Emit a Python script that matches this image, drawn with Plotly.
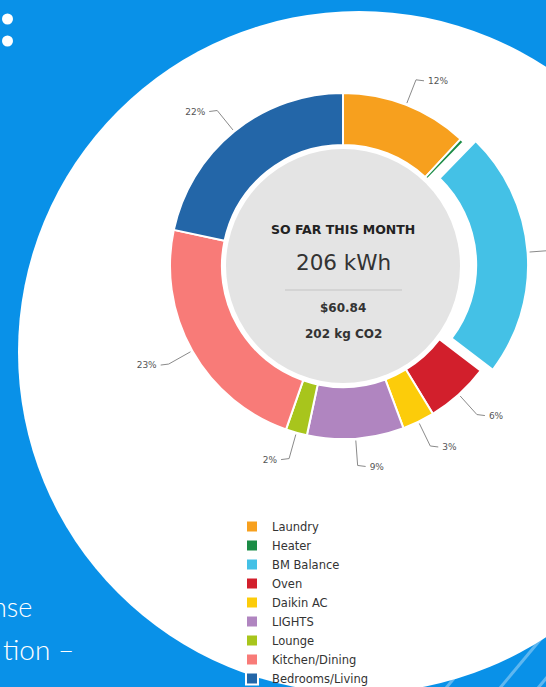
import numpy as np
import plotly.graph_objects as go

W, H = 546, 687

# ---- data ----------------------------------------------------------------
categories = ["Laundry", "Heater", "BM Balance", "Oven", "Daikin AC", "LIGHTS",
              "Lounge", "Kitchen/Dining", "Bedrooms/Living"]
kwh = [24.5, 0.8, 47.5, 12.3, 6.2, 18.6, 4.1, 47.4, 44.6]
pull = [0, 0, 0.07, 0, 0, 0, 0, 0, 0]
colors = ["#f7a01e", "#1b8c46", "#44c1e6", "#d21f2c", "#fccc0a",
          "#b085c0", "#a8c51c", "#f87b78", "#2366a8"]

headline = "SO FAR THIS MONTH"
cost_text = "$60.84"
co2_text = "202 kg CO2"

BG_BLUE = "#0991e8"
LABEL_GREY = "#555555"

# donut geometry in page pixels
CX, CY, R = 343, 266, 173
HOLE = 0.70
half = R * (1 + max(pull))

total = sum(kwh)
cum = np.cumsum([0] + kwh[:-1])

# leader lines + percentage labels, derived from the slice angles
lx, ly = [], []
tx, ty, tt, tpos = [], [], [], []
for v, c, p in zip(kwh, cum, pull):
    pct = round(100 * v / total)
    if pct == 0:
        continue
    theta = 2 * np.pi * (c + v / 2) / total
    sx, sy = np.sin(theta), -np.cos(theta)
    off = p * R
    r0, r1 = R + 2 + off, R + 27 + off
    side = 1 if sx >= 0 else -1
    x1, y1 = CX + r1 * sx, CY + r1 * sy
    lx += [CX + r0 * sx, x1, x1 + 8 * side, None]
    ly += [CY + r0 * sy, y1, y1 + 1, None]
    tx.append(x1 + 12 * side)
    ty.append(y1 + 2)
    tt.append(f"{pct}%")
    tpos.append("middle right" if side > 0 else "middle left")

fig = go.Figure()

fig.add_trace(go.Pie(
    labels=categories,
    values=kwh,
    pull=pull,
    hole=HOLE,
    sort=False,
    direction="clockwise",
    rotation=0,
    textinfo="none",
    marker=dict(colors=colors, line=dict(color="white", width=2)),
    domain=dict(x=[(CX - half) / W, (CX + half) / W],
                y=[1 - (CY + half) / H, 1 - (CY - half) / H]),
))

fig.add_trace(go.Scatter(
    x=lx, y=ly, mode="lines", line=dict(color="#8a8a8a", width=1),
    showlegend=False, hoverinfo="skip",
))
fig.add_trace(go.Scatter(
    x=tx, y=ty, mode="text", text=tt, textposition=tpos,
    textfont=dict(family="DejaVu Sans", size=9, color=LABEL_GREY),
    showlegend=False, hoverinfo="skip",
))

shapes = []
# faint diagonal stripes in the lower right corner
for x0 in [436, 490, 528]:
    shapes.append(dict(type="line", x0=x0, y0=700, x1=x0 + 110, y1=568,
                       line=dict(color="rgba(255,255,255,0.35)", width=3), layer="below"))
# big white disc
shapes.append(dict(type="circle", x0=18, y0=11, x1=700, y1=693,
                   fillcolor="white", line=dict(width=0), layer="below"))
# grey centre of the donut
shapes.append(dict(type="circle", x0=CX - 117, y0=CY - 117, x1=CX + 117, y1=CY + 117,
                   fillcolor="#e4e4e4", line=dict(width=0), layer="below"))
# divider
shapes.append(dict(type="line", x0=285, y0=290, x1=402, y1=290,
                   line=dict(color="#c4c4c4", width=1), layer="below"))
# two dots top-left
for yc in [19, 41]:
    shapes.append(dict(type="circle", x0=2, y0=yc - 5.5, x1=13, y1=yc + 5.5,
                       fillcolor="white", line=dict(width=0), layer="below"))

center_font = "DejaVu Sans"
annotations = [
    dict(x=CX, y=229, text=f"<b>{headline}</b>", showarrow=False,
         font=dict(family=center_font, size=12.5, color="#222")),
    dict(x=CX, y=262, text=f"{round(total)} kWh", showarrow=False,
         font=dict(family=center_font, size=21.5, color="#333")),
    dict(x=CX, y=308, text=f"<b>{cost_text}</b>", showarrow=False,
         font=dict(family=center_font, size=12, color="#333")),
    dict(x=CX, y=334, text=f"<b>{co2_text}</b>", showarrow=False,
         font=dict(family=center_font, size=12, color="#333")),
    dict(x=34, y=606, text="nse", showarrow=False, xanchor="right",
         font=dict(family="Lato", size=27, color="white", weight=300)),
    dict(x=1, y=649, text="tion –", showarrow=False, xanchor="left",
         font=dict(family="Lato", size=28, color="white", weight=300)),
]

fig.update_layout(
    width=W, height=H,
    margin=dict(l=0, r=0, t=0, b=0, autoexpand=False),
    paper_bgcolor=BG_BLUE,
    plot_bgcolor="rgba(0,0,0,0)",
    xaxis=dict(range=[0, W], visible=False, fixedrange=True),
    yaxis=dict(range=[H, 0], visible=False, fixedrange=True),
    shapes=shapes,
    annotations=annotations,
    legend=dict(x=232 / W, xanchor="left", y=1 - 512 / H, yanchor="top",
                font=dict(family="DejaVu Sans", size=11.5, color="#333"),
                bgcolor="rgba(0,0,0,0)", traceorder="normal"),
    font=dict(family="DejaVu Sans"),
)

fig.write_html(
    "out.html",
    config={"displayModeBar": False},
    post_script="document.body.style.margin='0';document.body.style.overflow='hidden';",
)
